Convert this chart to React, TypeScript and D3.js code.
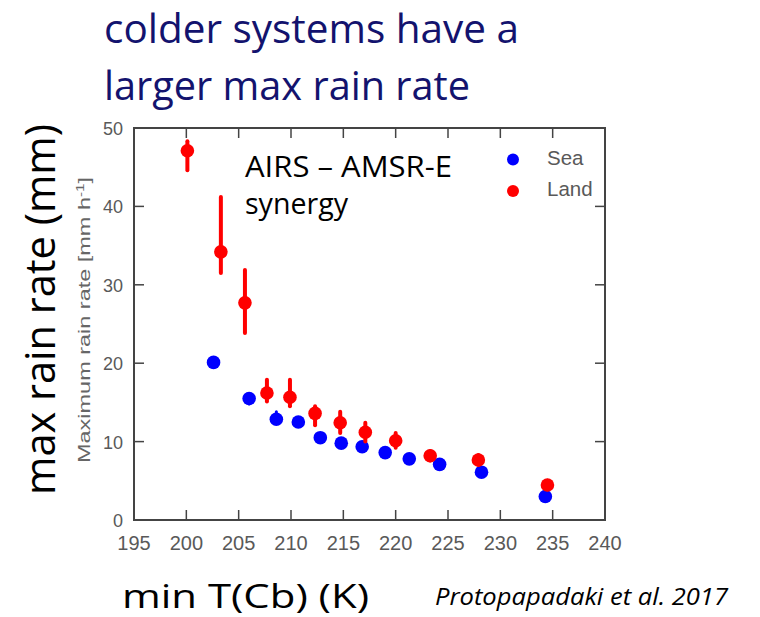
import React from "react";
import * as d3 from "d3";

// ---- data ----
const xTicks = [195, 200, 205, 210, 215, 220, 225, 230, 235, 240];
const yTicks = [0, 10, 20, 30, 40, 50];

const seaT = [202.6, 206.0, 208.6, 210.7, 212.8, 214.8, 216.8, 219.0, 221.3, 224.2, 228.2, 234.3];
const seaV = [20.1, 15.5, 12.85, 12.5, 10.5, 9.8, 9.35, 8.6, 7.8, 7.1, 6.1, 3.0];
const seaLo = [19.6, 14.8, 12.3, 12.0, 10.0, 9.3, 8.85, 8.1, 7.3, 6.6, 5.6, 2.5];
const seaHi = [20.6, 16.0, 13.8, 13.0, 11.0, 10.3, 9.85, 9.1, 8.3, 7.6, 6.6, 3.5];

const landT = [200.1, 203.3, 205.6, 207.7, 209.9, 212.3, 214.7, 217.1, 220.0, 223.3, 227.9, 234.5];
const landV = [47.1, 34.2, 27.7, 16.2, 15.65, 13.6, 12.4, 11.2, 10.1, 8.2, 7.65, 4.46];
const landLo = [44.6, 31.5, 23.85, 15.1, 14.5, 12.1, 11.1, 10.0, 9.2, 7.6, 7.0, 3.9];
const landHi = [48.3, 41.2, 31.9, 17.9, 17.9, 14.5, 13.8, 12.4, 11.1, 8.8, 8.3, 5.0];

const titleLines = ["colder systems have a", "larger max rain rate"];
const annotLines = ["AIRS \u2013 AMSR-E", "synergy"];
const seriesNames = ["Sea", "Land"];
const seriesColors = ["#0000ff", "#ff0000"];

const W = 760;
const H = 617;
const x = d3.scaleLinear().domain([195, 240]).range([134, 605]);
const y = d3.scaleLinear().domain([0, 50]).range([520, 128]);

const axisColor = "#444";
const tickText = "#595959";
const calibri = "'Open Sans', 'Noto Sans', sans-serif";
const arial = "'Liberation Sans', Arial, sans-serif";

function Series({ T, V, Lo, Hi, color, ew }: any) {
  return (
    <g>
      {T.map((t: number, i: number) => (
        <line
          key={"e" + i}
          x1={x(t)}
          x2={x(t)}
          y1={y(Lo[i])}
          y2={y(Hi[i])}
          stroke={color}
          strokeWidth={ew}
          strokeLinecap="round"
        />
      ))}
      {T.map((t: number, i: number) => (
        <circle key={"c" + i} cx={x(t)} cy={y(V[i])} r={6.8} fill={color} />
      ))}
    </g>
  );
}

export default function App() {
  const [x0, x1] = x.range();
  const [y0, y1] = y.range();
  return (
    <svg
      width={W}
      height={H}
      viewBox={`0 0 ${W} ${H}`}
      style={{ position: "absolute", left: 0, top: 0, background: "#fff" }}
    >
      <rect x={0} y={0} width={W} height={H} fill="#fff" />
      {/* title */}
      <text x={104} y={43} fontFamily={calibri} fontSize={41} fill="#13136e" textLength={415} lengthAdjust="spacingAndGlyphs">
        {titleLines[0]}
      </text>
      <text x={104} y={100} fontFamily={calibri} fontSize={41} fill="#13136e" textLength={366} lengthAdjust="spacingAndGlyphs">
        {titleLines[1]}
      </text>

      {/* y axis big label */}
      <text
        transform={`translate(55,${(124 + 495) / 2}) rotate(-90)`}
        textAnchor="middle"
        fontFamily={calibri}
        fontSize={42}
        fill="#000"
        textLength={371}
        lengthAdjust="spacingAndGlyphs"
      >
        max rain rate (mm)
      </text>

      {/* inner y label */}
      <text
        transform={`translate(90,${(177 + 463) / 2}) rotate(-90)`}
        textAnchor="middle"
        fontFamily={arial}
        fontSize={17}
        fill="#666"
        textLength={286}
        lengthAdjust="spacingAndGlyphs"
      >
        Maximum rain rate [mm h
        <tspan dy={-6} fontSize={11}>-1</tspan>
        <tspan dy={6}>]</tspan>
      </text>

      {/* frame */}
      <rect x={x0} y={y1} width={x1 - x0} height={y0 - y1} fill="none" stroke={axisColor} strokeWidth={2} />

      {/* x ticks */}
      {xTicks.map((t) => (
        <g key={"xt" + t}>
          <line x1={x(t)} x2={x(t)} y1={y0} y2={y0 - 10} stroke={axisColor} strokeWidth={1.5} />
          <line x1={x(t)} x2={x(t)} y1={y1} y2={y1 + 10} stroke={axisColor} strokeWidth={1.5} />
          <text x={x(t)} y={550} textAnchor="middle" fontFamily={arial} fontSize={20} fill={tickText}>
            {t}
          </text>
        </g>
      ))}
      {/* y ticks */}
      {yTicks.map((v) => (
        <g key={"yt" + v}>
          <line x1={x0} x2={x0 + 10} y1={y(v)} y2={y(v)} stroke={axisColor} strokeWidth={1.5} />
          <line x1={x1} x2={x1 - 10} y1={y(v)} y2={y(v)} stroke={axisColor} strokeWidth={1.5} />
          <text x={123} y={y(v) + 7} textAnchor="end" fontFamily={arial} fontSize={18} fill={tickText}>
            {v}
          </text>
        </g>
      ))}

      {/* data */}
      <Series T={seaT} V={seaV} Lo={seaLo} Hi={seaHi} color={seriesColors[0]} ew={3} />
      <Series T={landT} V={landV} Lo={landLo} Hi={landHi} color={seriesColors[1]} ew={4} />

      {/* annotation */}
      <text x={245} y={177} fontFamily={calibri} fontSize={29} fill="#000" textLength={207} lengthAdjust="spacingAndGlyphs">
        {annotLines[0]}
      </text>
      <text x={245} y={214} fontFamily={calibri} fontSize={29} fill="#000" textLength={103} lengthAdjust="spacingAndGlyphs">
        {annotLines[1]}
      </text>

      {/* legend */}
      {seriesNames.map((n, i) => (
        <g key={n}>
          <circle cx={513} cy={159.5 + i * 31.5} r={6} fill={seriesColors[i]} />
          <text x={547} y={165 + i * 31} fontFamily={arial} fontSize={20.5} fill={tickText}>
            {n}
          </text>
        </g>
      ))}

      {/* x axis label & citation */}
      <text x={122} y={608} fontFamily={calibri} fontSize={33} fill="#000" textLength={247} lengthAdjust="spacingAndGlyphs">
        min T(Cb) (K)
      </text>
      <text x={435} y={605} fontFamily={calibri} fontStyle="italic" fontSize={23} fill="#000" textLength={293} lengthAdjust="spacingAndGlyphs">
        Protopapadaki et al. 2017
      </text>
    </svg>
  );
}
